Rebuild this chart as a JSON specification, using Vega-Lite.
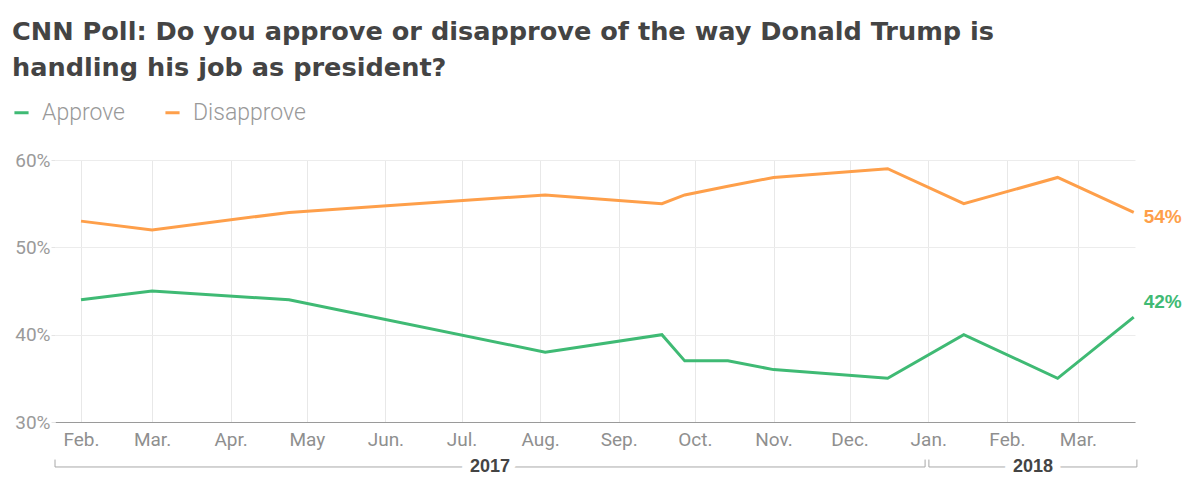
{
  "$schema": "https://vega.github.io/schema/vega-lite/v6.json",
  "width": 1080,
  "height": 262,
  "autosize": {"type": "none"},
  "padding": {"left": 55, "top": 160, "right": 50, "bottom": 55},
  "background": "white",
  "config": {"view": {"stroke": null}, "font": "Roboto"},
  "title": {
    "text": ["CNN Poll: Do you approve or disapprove of the way Donald Trump is", "handling his job as president?"],
    "anchor": "start",
    "frame": "group",
    "dx": -43,
    "font": "DejaVu Sans",
    "fontSize": 25.6,
    "fontWeight": "bold",
    "color": "#444444",
    "lineHeight": 36,
    "offset": 19
  },
  "datasets": {
    "poll": [
      {"date": "2017-02-01T00:00", "series": "Approve", "value": 44},
      {"date": "2017-03-01T00:00", "series": "Approve", "value": 45},
      {"date": "2017-04-24T00:00", "series": "Approve", "value": 44},
      {"date": "2017-08-03T00:00", "series": "Approve", "value": 38},
      {"date": "2017-09-18T00:00", "series": "Approve", "value": 40},
      {"date": "2017-09-27T00:00", "series": "Approve", "value": 37},
      {"date": "2017-10-14T00:00", "series": "Approve", "value": 37},
      {"date": "2017-11-01T00:00", "series": "Approve", "value": 36},
      {"date": "2017-12-16T00:00", "series": "Approve", "value": 35},
      {"date": "2018-01-15T00:00", "series": "Approve", "value": 40},
      {"date": "2018-02-21T00:00", "series": "Approve", "value": 35},
      {"date": "2018-03-23T00:00", "series": "Approve", "value": 42},
      {"date": "2017-02-01T00:00", "series": "Disapprove", "value": 53},
      {"date": "2017-03-01T00:00", "series": "Disapprove", "value": 52},
      {"date": "2017-04-24T00:00", "series": "Disapprove", "value": 54},
      {"date": "2017-08-03T00:00", "series": "Disapprove", "value": 56},
      {"date": "2017-09-18T00:00", "series": "Disapprove", "value": 55},
      {"date": "2017-09-27T00:00", "series": "Disapprove", "value": 56},
      {"date": "2017-10-14T00:00", "series": "Disapprove", "value": 57},
      {"date": "2017-11-01T00:00", "series": "Disapprove", "value": 58},
      {"date": "2017-12-16T00:00", "series": "Disapprove", "value": 59},
      {"date": "2018-01-15T00:00", "series": "Disapprove", "value": 55},
      {"date": "2018-02-21T00:00", "series": "Disapprove", "value": 58},
      {"date": "2018-03-23T00:00", "series": "Disapprove", "value": 54}
    ],
    "years": [
      {"year": "2017", "start": "2017-01-21T18:00", "end": "2017-12-30T18:00"},
      {"year": "2018", "start": "2018-01-01T06:00", "end": "2018-03-24T06:00"}
    ]
  },
  "layer": [
    {
      "data": {"name": "poll"},
      "mark": {"type": "line", "strokeWidth": 3},
      "encoding": {
        "x": {
          "field": "date",
          "type": "temporal",
          "scale": {
            "domain": [
              {"year": 2017, "month": "jan", "date": 21, "hours": 18},
              {"year": 2018, "month": "mar", "date": 23, "hours": 12}
            ]
          },
          "axis": {
            "title": null,
            "tickCount": {"interval": "month", "step": 1},
            "labelExpr": "month(datum.value) == 4 ? 'May' : timeFormat(datum.value, '%b.')",
            "grid": true,
            "gridColor": "#e8e8e8",
            "domainColor": "#9a9a9a",
            "ticks": false,
            "labelFontSize": 19,
            "labelColor": "#8f8f8f",
            "labelPadding": 8,
            "labelFlush": false,
            "labelOverlap": false
          }
        },
        "y": {
          "field": "value",
          "type": "quantitative",
          "scale": {"domain": [30, 60], "nice": false, "zero": false},
          "axis": {
            "title": null,
            "values": [30, 40, 50, 60],
            "labelExpr": "datum.value + '%'",
            "domain": false,
            "tickColor": "#e4e4e4",
            "tickSize": 4,
            "gridColor": "#ececec",
            "labelFontSize": 19,
            "labelColor": "#9a9a9a",
            "labelPadding": 1
          }
        },
        "color": {
          "field": "series",
          "type": "nominal",
          "scale": {"domain": ["Approve", "Disapprove"], "range": ["#3fba74", "#fe9f4a"]},
          "legend": {
            "title": null,
            "orient": "none",
            "legendX": -45,
            "legendY": -59,
            "direction": "horizontal",
            "symbolType": "stroke",
            "symbolSize": 200,
            "symbolStrokeWidth": 3,
            "labelFontSize": 23,
            "labelFontWeight": 300,
            "labelColor": "#999999",
            "labelOffset": 9,
            "columnPadding": 34
          }
        }
      }
    },
    {
      "data": {"name": "poll"},
      "transform": [
        {"filter": "datum.series == 'Disapprove' && year(datum.date) == 2018 && month(datum.date) == 2"},
        {"calculate": "datum.value + '%'", "as": "label"}
      ],
      "mark": {"type": "text", "align": "left", "baseline": "middle", "dx": 10, "dy": 5, "font": "Liberation Sans", "fontSize": 19, "fontWeight": "bold", "color": "#fe9f4a"},
      "encoding": {
        "x": {"field": "date", "type": "temporal"},
        "y": {"field": "value", "type": "quantitative"},
        "text": {"field": "label"}
      }
    },
    {
      "data": {"name": "poll"},
      "transform": [
        {"filter": "datum.series == 'Approve' && year(datum.date) == 2018 && month(datum.date) == 2"},
        {"calculate": "datum.value + '%'", "as": "label"}
      ],
      "mark": {"type": "text", "align": "left", "baseline": "middle", "dx": 10, "dy": -15, "font": "Liberation Sans", "fontSize": 19, "fontWeight": "bold", "color": "#3fba74"},
      "encoding": {
        "x": {"field": "date", "type": "temporal"},
        "y": {"field": "value", "type": "quantitative"},
        "text": {"field": "label"}
      }
    },
    {
      "data": {"name": "years"},
      "mark": {"type": "rule", "color": "#a8a8a8", "strokeWidth": 1},
      "encoding": {
        "x": {"field": "start", "type": "temporal"},
        "x2": {"field": "end"},
        "y": {"datum": 24.85, "type": "quantitative"}
      }
    },
    {
      "data": {"name": "years"},
      "mark": {"type": "rule", "color": "#a8a8a8", "strokeWidth": 1},
      "encoding": {
        "x": {"field": "start", "type": "temporal"},
        "y": {"datum": 24.85, "type": "quantitative"},
        "y2": {"datum": 25.7}
      }
    },
    {
      "data": {"name": "years"},
      "mark": {"type": "rule", "color": "#a8a8a8", "strokeWidth": 1},
      "encoding": {
        "x": {"field": "end", "type": "temporal"},
        "y": {"datum": 24.85, "type": "quantitative"},
        "y2": {"datum": 25.7}
      }
    },
    {
      "data": {"name": "years"},
      "transform": [{"calculate": "(toDate(datum.start) + toDate(datum.end)) / 2", "as": "mid"}],
      "mark": {"type": "text", "baseline": "middle", "font": "Liberation Sans", "fontSize": 18, "fontWeight": "bold", "color": "white", "stroke": "white", "strokeWidth": 16},
      "encoding": {
        "x": {"field": "mid", "type": "temporal"},
        "y": {"datum": 24.85, "type": "quantitative"},
        "text": {"field": "year"}
      }
    },
    {
      "data": {"name": "years"},
      "transform": [{"calculate": "(toDate(datum.start) + toDate(datum.end)) / 2", "as": "mid"}],
      "mark": {"type": "text", "baseline": "middle", "font": "Liberation Sans", "fontSize": 18, "fontWeight": "bold", "color": "#444444"},
      "encoding": {
        "x": {"field": "mid", "type": "temporal"},
        "y": {"datum": 24.85, "type": "quantitative"},
        "text": {"field": "year"}
      }
    }
  ]
}
